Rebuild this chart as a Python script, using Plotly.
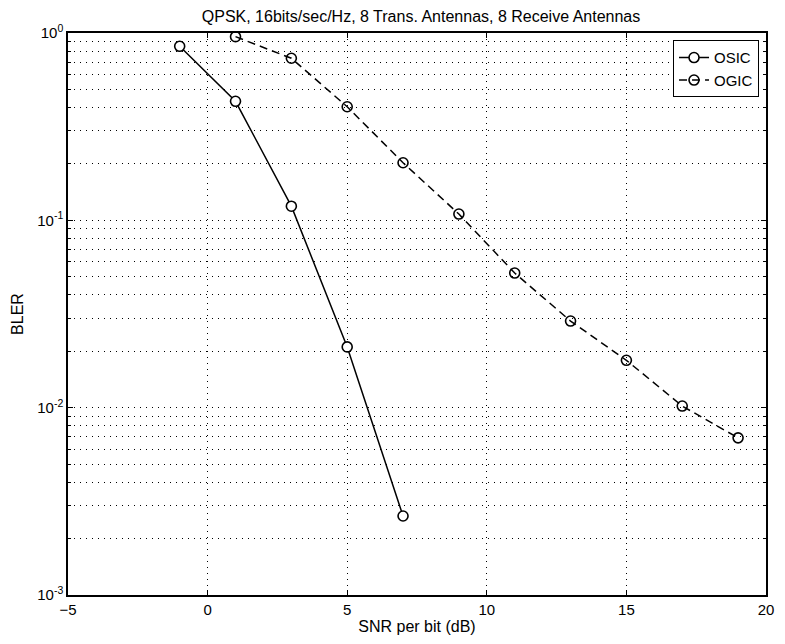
import plotly.graph_objects as go

snr_osic = [-1, 1, 3, 5, 7]
bler_osic = [0.849, 0.432, 0.119, 0.0211, 0.00264]

snr_ogic = [1, 3, 5, 7, 9, 11, 13, 15, 17, 19]
bler_ogic = [0.956, 0.733, 0.404, 0.203, 0.108, 0.0523, 0.029, 0.0179, 0.0102, 0.0069]

y_major = [1e-3, 1e-2, 1e-1, 1]
y_major_text = ["10<sup>-3</sup>", "10<sup>-2</sup>", "10<sup>-1</sup>", "10<sup>0</sup>"]
y_minor = [m * 10 ** e for e in (-3, -2, -1) for m in range(2, 10)]
x_ticks = [-5, 0, 5, 10, 15, 20]

title_text = "QPSK, 16bits/sec/Hz, 8 Trans. Antennas, 8 Receive Antennas"

FONT = "Liberation Sans, Arial, Helvetica, sans-serif"
DOT = "1px,5px"

fig = go.Figure()
fig.add_trace(go.Scatter(
    x=snr_osic, y=bler_osic, name="OSIC", mode="lines+markers",
    line=dict(color="black", width=1.5),
    marker=dict(symbol="circle", size=10, color="white",
                line=dict(color="black", width=1.6)),
))
fig.add_trace(go.Scatter(
    x=snr_ogic, y=bler_ogic, name="OGIC", mode="lines+markers",
    line=dict(color="black", width=1.5, dash="8px,5px"),
    marker=dict(symbol="circle-open", size=10, color="black",
                line=dict(color="black", width=1.6)),
))

fig.update_layout(
    width=785, height=644,
    margin=dict(l=68, r=11, t=33, b=49),
    paper_bgcolor="white", plot_bgcolor="white",
    font=dict(family=FONT, size=15, color="black"),
    title=dict(text=title_text, x=421 / 785, xanchor="center",
               y=1 - 16 / 644, yanchor="middle", font=dict(size=16)),
    showlegend=True,
    legend=dict(x=0.99, xanchor="right", y=0.987, yanchor="top",
                bordercolor="black", borderwidth=1, bgcolor="white",
                font=dict(size=15), tracegroupgap=0, itemwidth=30),
)

fig.update_xaxes(
    range=[-5, 20], tickvals=x_ticks, ticks="inside", ticklen=5,
    tickwidth=1, tickcolor="black", tickfont=dict(size=15),
    showline=True, linecolor="black", linewidth=1.5, mirror="ticks",
    showgrid=True, gridcolor="black", gridwidth=1, griddash=DOT,
    zeroline=False,
    title=dict(text="SNR per bit (dB)", standoff=4, font=dict(size=16)),
)
fig.update_yaxes(
    type="log", range=[-3, 0], tickvals=y_major, ticktext=y_major_text,
    ticks="inside", ticklen=5, tickwidth=1, tickcolor="black",
    tickfont=dict(size=15),
    showline=True, linecolor="black", linewidth=1.5, mirror="ticks",
    showgrid=True, gridcolor="black", gridwidth=1, griddash=DOT,
    zeroline=False,
    minor=dict(tickvals=y_minor, ticks="inside", ticklen=3, tickcolor="black",
               showgrid=True, gridcolor="black", gridwidth=1, griddash=DOT),
    title=dict(text="BLER", standoff=10, font=dict(size=16)),
)

fig.write_html("out.html")
